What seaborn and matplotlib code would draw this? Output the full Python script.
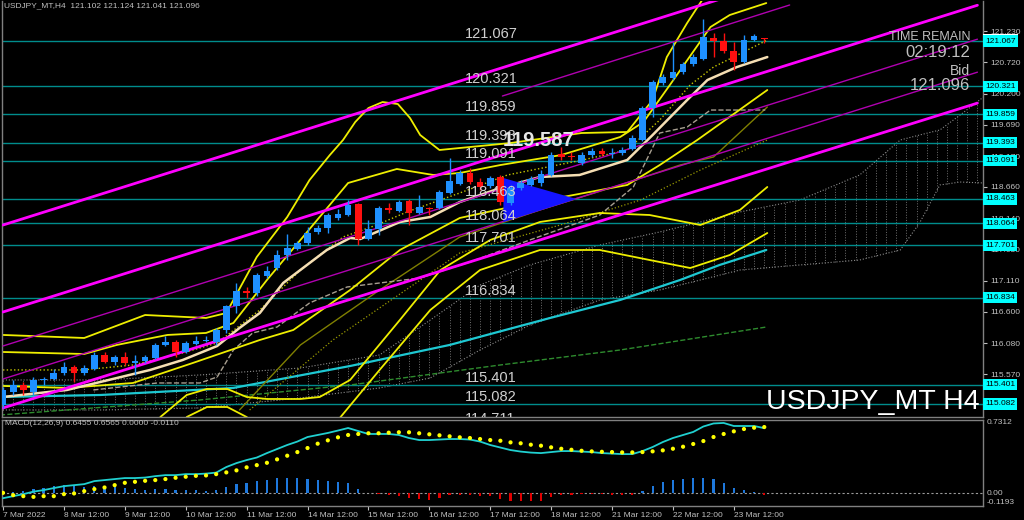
import numpy as np
import matplotlib
matplotlib.use("Agg")
import matplotlib.pyplot as plt
import seaborn as sns

sns.set_theme(style="dark")
plt.rcParams['font.family'] = ['Liberation Sans', 'DejaVu Sans']

# ---------------- data ----------------
bars = list(range(76))
open_ = [115.065, 115.280, 115.395, 115.280, 115.478, 115.494, 115.593, 115.692, 115.593, 115.659,
         115.890, 115.774, 115.857, 115.758, 115.791, 115.840, 116.055, 116.104, 115.939, 116.071,
         116.121, 116.104, 116.302, 116.698, 116.945, 116.912, 117.192, 117.324, 117.538, 117.637,
         117.736, 117.918, 117.984, 118.149, 118.198, 118.379, 117.802, 117.967, 118.313, 118.264,
         118.429, 118.231, 118.313, 118.313, 118.561, 118.709, 118.890, 118.742, 118.676, 118.825,
         118.396, 118.643, 118.693, 118.726, 118.858, 119.204, 119.171, 119.055, 119.187, 119.253,
         119.204, 119.220, 119.286, 119.435, 119.962, 120.375, 120.457, 120.556, 120.688, 120.770,
         121.116, 121.067, 120.902, 120.721, 121.083, 121.102]
high = [115.362, 115.478, 115.445, 115.527, 115.527, 115.659, 115.774, 115.725, 115.725, 115.939,
        115.939, 115.890, 115.939, 115.890, 115.890, 116.088, 116.203, 116.137, 116.121, 116.203,
        116.203, 116.335, 116.715, 117.077, 117.011, 117.242, 117.358, 117.621, 117.885, 117.769,
        118.000, 118.033, 118.231, 118.297, 118.445, 118.396, 118.116, 118.346, 118.396, 118.445,
        118.462, 118.528, 118.330, 118.610, 119.138, 118.940, 118.973, 118.808, 118.841, 118.858,
        118.693, 118.775, 118.841, 118.940, 119.237, 119.319, 119.237, 119.237, 119.303, 119.303,
        119.303, 119.319, 119.517, 119.995, 120.424, 120.523, 121.050, 120.721, 120.853, 121.430,
        121.199, 121.199, 121.050, 121.166, 121.182, 121.124]
low = [115.016, 115.230, 115.230, 115.230, 115.395, 115.478, 115.560, 115.445, 115.560, 115.642,
       115.758, 115.725, 115.725, 115.560, 115.758, 115.824, 116.038, 115.857, 115.923, 116.055,
       116.104, 116.055, 116.253, 116.582, 116.830, 116.863, 117.159, 117.291, 117.456, 117.621,
       117.703, 117.885, 117.901, 118.116, 118.182, 117.703, 117.786, 117.868, 118.231, 118.248,
       118.033, 118.215, 118.198, 118.297, 118.544, 118.693, 118.709, 118.610, 118.643, 118.363,
       118.363, 118.610, 118.676, 118.676, 118.841, 119.105, 119.105, 119.022, 119.155, 119.171,
       119.138, 119.187, 119.270, 119.418, 119.814, 120.341, 120.424, 120.523, 120.655, 120.754,
       120.803, 120.869, 120.589, 120.704, 121.067, 121.041]
close = [115.313, 115.395, 115.313, 115.478, 115.494, 115.593, 115.692, 115.593, 115.675, 115.890,
         115.774, 115.857, 115.758, 115.791, 115.857, 116.055, 116.104, 115.939, 116.088, 116.121,
         116.137, 116.302, 116.698, 116.945, 116.912, 117.209, 117.275, 117.538, 117.654, 117.736,
         117.901, 117.984, 118.198, 118.215, 118.363, 117.802, 117.967, 118.313, 118.281, 118.412,
         118.231, 118.330, 118.297, 118.577, 118.759, 118.890, 118.742, 118.660, 118.808, 118.412,
         118.643, 118.726, 118.792, 118.874, 119.187, 119.155, 119.155, 119.187, 119.253, 119.204,
         119.220, 119.270, 119.468, 119.962, 120.391, 120.473, 120.556, 120.688, 120.803, 121.133,
         121.067, 120.902, 120.721, 121.083, 121.149, 121.096]

# horizontal levels
levels = [121.067, 120.321, 119.859, 119.393, 119.091, 118.463, 118.064, 117.701,
          116.834, 115.401, 115.082, 114.711]
price_ticks = [121.230, 120.720, 120.200, 119.690, 119.170, 118.660, 118.140, 117.630,
               117.110, 116.600, 116.080, 115.570]

# indicator lines (bar index, price)
bb_outer_up_x = [0, 8, 14, 20, 22, 25, 28, 30.2, 32.2, 33.5, 34.7, 36, 37.4, 38.9, 40.1, 41.1, 43,
                 50, 57, 61.5, 64, 65.4, 67.4, 69.2]
bb_outer_up_y = [116.220, 116.170, 116.549, 116.500, 116.582, 117.506, 118.165, 118.775, 119.187,
                 119.435, 119.731, 119.962, 120.061, 120.028, 119.797, 119.517, 119.270,
                 119.385, 119.550, 119.567, 120.094, 120.803, 121.364, 121.825]
bb_inner_up_x = [0, 8, 11.2, 16.2, 20, 22.7, 26, 34, 38.8, 42.4, 45, 49, 55, 60.8, 63.1, 65.7, 69.7, 71.6, 75.2]
bb_inner_up_y = [115.939, 115.906, 116.055, 116.220, 116.253, 116.418, 117.126, 118.726, 118.957,
                 118.858, 118.891, 119.022, 119.187, 119.484, 119.731, 120.342, 121.298, 121.496, 121.693]
bb_low1_x = [0, 6.3, 12.8, 18.7, 25.3, 28.6, 34.2, 39.1, 45, 50.9, 56.2, 61.5, 64.7, 68.4, 75.3]
bb_low1_y = [115.379, 115.346, 115.428, 115.758, 116.137, 116.302, 116.961, 117.621, 118.149,
             118.363, 118.528, 118.693, 119.022, 119.435, 120.259]
bb_low2_x = [15.5, 18.1, 20.1, 22.1, 24.0, 26.0, 29.3, 31.2, 34.2, 39.1, 43.1, 48.0, 52.9, 58.8,
             63.7, 68.7, 72.6, 75.3]
bb_low2_y = [114.867, 115.230, 115.329, 115.329, 115.197, 115.164, 115.164, 115.197, 115.478,
             116.467, 117.291, 117.786, 118.083, 118.231, 118.198, 118.033, 118.281, 118.660]
bb_low3_x = [18.1, 20.1, 22.1, 24.0, 25.5, 29.0, 32.2, 37.1, 42.1, 47.0, 52.9, 58.8, 63.7, 67.7, 71.6, 75.3]
bb_low3_y = [114.867, 115.032, 115.032, 114.867, 114.653, 114.300, 114.653, 115.643, 116.632,
             117.291, 117.621, 117.621, 117.456, 117.324, 117.538, 117.901]
ma_fast_x = [0, 6.3, 9.6, 14.5, 17.7, 21.1, 23.3, 25.3, 27.6, 31.9, 34.2, 35.2, 39.1, 42.1, 45,
             49, 52.9, 56.8, 61.5, 64, 67.4, 69.4, 72.3, 75.3]
ma_fast_y = [115.197, 115.313, 115.445, 115.643, 115.807, 116.038, 116.335, 116.582, 117.077,
             117.621, 117.819, 117.802, 118.083, 118.165, 118.412, 118.643, 118.825, 118.858,
             119.105, 119.517, 120.094, 120.424, 120.638, 120.803]
ma_dot_x = [0, 7.9, 12.8, 17.7, 21.1, 25.3, 29.3, 33.5, 36.8, 39.8, 45, 49.7, 57.1, 61.5, 64.7, 67.7, 70, 75.3]
ma_dot_y = [115.643, 115.643, 115.725, 115.923, 116.088, 116.632, 117.291, 117.835, 118.033,
            118.248, 118.561, 118.858, 119.105, 119.270, 119.764, 120.342, 120.638, 121.083]
olive_x = [23.3, 29.3, 37.1, 45, 52.9, 60.8, 66.7, 70, 75.3]
olive_y = [114.983, 116.055, 116.961, 117.835, 118.281, 118.693, 119.022, 119.155, 119.979]
olive_dot_x = [24.3, 32.5, 45, 54.9, 62.8, 68.7, 75.3]
olive_dot_y = [114.983, 116.137, 117.572, 118.033, 118.445, 118.940, 119.435]
kijun_x = [8.9, 15.2, 19.4, 21.1, 22.7, 24.6, 27.0, 30.2, 33.9, 41.1, 46.0, 51.9, 58.8, 62.1,
           63.4, 64.7, 67.4, 69.7, 75.1]
kijun_y = [115.313, 115.428, 115.428, 115.527, 115.972, 116.253, 116.351, 116.747, 117.011,
           117.159, 117.423, 117.786, 118.198, 118.660, 119.105, 119.550, 119.649, 119.929, 119.929]
ma_slow_x = [-0.3, 9.6, 22.7, 34.2, 44, 53.9, 60.8, 66.7, 70.6, 75.2]
ma_slow_y = [115.197, 115.230, 115.346, 115.708, 116.055, 116.500, 116.797, 117.126, 117.374, 117.621]
ma_green_x = [-0.3, 19.4, 34.2, 49, 60.8, 75.2]
ma_green_y = [114.900, 115.148, 115.395, 115.725, 115.972, 116.351]
cloud_x = [-0.3, 9.6, 19.4, 29.3, 37.1, 42.1, 47.0, 51.9, 58.8, 64.7, 68.7, 72.6, 78.5, 84.4,
           88.4, 90.3, 92.3, 94.3, 96.6]
cloud_up = [115.478, 115.478, 115.560, 115.675, 115.890, 116.467, 117.044, 117.374, 117.704,
            117.918, 118.083, 118.248, 118.445, 118.858, 119.435, 119.517, 119.600, 119.847, 120.144]
cloud_lo = [114.983, 114.983, 115.016, 115.181, 115.346, 115.511, 115.972, 116.385, 116.797,
            116.962, 117.126, 117.291, 117.374, 117.456, 117.621, 118.066, 118.693, 118.742, 118.726]

# channel lines (start/end)
chan_x = [0, 96]
chan_thick = [[118.033, 123.095], [116.599, 121.657], [115.016, 120.043]]
chan_thin = [[116.038, 121.097], [115.494, 120.553]]
fork_x = [49.2, 77.5]
fork_y = [120.160, 121.661]
tri_x = [49.3, 49.3, 56.5]
tri_y = [118.808, 118.083, 118.462]

# MACD
macd_main = [-0.047, -0.027, -0.007, 0.018, 0.033, 0.053, 0.072, 0.082, 0.092, 0.122,
             0.132, 0.142, 0.152, 0.152, 0.157, 0.171, 0.181, 0.181, 0.191, 0.191,
             0.196, 0.206, 0.261, 0.300, 0.330, 0.355, 0.399, 0.439, 0.479, 0.513,
             0.558, 0.578, 0.598, 0.622, 0.647, 0.617, 0.588, 0.588, 0.588, 0.578,
             0.548, 0.528, 0.528, 0.533, 0.538, 0.538, 0.533, 0.513, 0.479, 0.454,
             0.429, 0.414, 0.404, 0.399, 0.409, 0.419, 0.419, 0.414, 0.409, 0.399,
             0.394, 0.389, 0.389, 0.419, 0.459, 0.508, 0.548, 0.578, 0.608, 0.662,
             0.692, 0.697, 0.667, 0.667, 0.667, 0.6455]
macd_signal = [0.006, -0.017, -0.027, -0.034, -0.027, -0.027, -0.007, 0.000, 0.023, 0.043,
               0.059, 0.082, 0.105, 0.115, 0.125, 0.132, 0.142, 0.155, 0.165, 0.174,
               0.178, 0.191, 0.208, 0.228, 0.258, 0.280, 0.303, 0.337, 0.373, 0.409,
               0.449, 0.492, 0.525, 0.555, 0.578, 0.588, 0.595, 0.595, 0.601, 0.605,
               0.605, 0.595, 0.585, 0.575, 0.565, 0.555, 0.548, 0.538, 0.528, 0.521,
               0.505, 0.496, 0.482, 0.472, 0.456, 0.442, 0.432, 0.422, 0.416, 0.412,
               0.409, 0.406, 0.406, 0.409, 0.416, 0.426, 0.442, 0.462, 0.489, 0.518,
               0.558, 0.588, 0.614, 0.637, 0.650, 0.6565]
macd_hist = [-0.010, 0.010, 0.020, 0.040, 0.050, 0.069, 0.079, 0.069, 0.062, 0.069,
             0.062, 0.069, 0.056, 0.046, 0.033, 0.040, 0.046, 0.033, 0.033, 0.033,
             0.026, 0.033, 0.062, 0.093, 0.102, 0.125, 0.132, 0.152, 0.152, 0.152,
             0.142, 0.132, 0.125, 0.109, 0.099, 0.040, 0.004, -0.005, -0.017, -0.027,
             -0.050, -0.059, -0.066, -0.050, -0.017, -0.017, -0.017, -0.027, -0.027, -0.059,
             -0.073, -0.073, -0.073, -0.073, -0.040, -0.020, -0.017, -0.010, -0.003, -0.010,
             -0.017, -0.017, -0.017, 0.023, 0.073, 0.112, 0.132, 0.142, 0.149, 0.155,
             0.142, 0.106, 0.053, 0.033, 0.013, -0.011]

date_ticks = [0, 6, 12, 18, 24, 30, 36, 42, 48, 54, 60, 66, 72]
date_labels = ["7 Mar 2022", "8 Mar 12:00", "9 Mar 12:00", "10 Mar 12:00", "11 Mar 12:00",
               "14 Mar 12:00", "15 Mar 12:00", "16 Mar 12:00", "17 Mar 12:00", "18 Mar 12:00",
               "21 Mar 12:00", "22 Mar 12:00", "23 Mar 12:00"]

# ---------------- figure ----------------
W, H = 1024, 520
fig = plt.figure(figsize=(W / 100, H / 100), dpi=100, facecolor='black')


def rect(x0, y0, x1, y1):
    return [x0 / W, 1 - y1 / H, (x1 - x0) / W, (y1 - y0) / H]


ax = fig.add_axes(rect(2, 1, 983, 417))
ax2 = fig.add_axes(rect(2, 419.5, 983, 505.5), sharex=ax)
GRAY = '#c0c0c0'
for a in (ax, ax2):
    a.set_facecolor('black')
    a.grid(False)
    for s in a.spines.values():
        s.set_color('#808080')
        s.set_linewidth(1)
ax.spines['top'].set_visible(False)

ax.set_xlim(-0.1, 96.55)
ax.set_ylim(114.867, 121.727)
ax2.set_ylim(-0.1193, 0.7312)


def line(axis, xs, ys, color, lw=1.0, ls='-', z=2):
    sns.lineplot(x=np.asarray(xs, float), y=np.asarray(ys, float), ax=axis, color=color,
                 linewidth=lw, linestyle=ls, estimator=None, sort=False, legend=False, zorder=z)


# Ichimoku cloud
line(ax, cloud_x, cloud_up, '#8c8c8c', 0.8, ':', 1)
line(ax, cloud_x, cloud_lo, '#8c8c8c', 0.8, ':', 1)
hx = np.arange(0, 97)
ax.vlines(hx, np.interp(hx, cloud_x, cloud_lo), np.interp(hx, cloud_x, cloud_up),
          colors='#6e6e6e', linewidth=0.7, linestyles=':', zorder=1)

# horizontal levels
for lv in levels:
    ax.axhline(lv, color='#008c8c', lw=1.0, zorder=1.5)
    ax.text(45.5, lv + 0.05, f"{lv:.3f}", color='#d0d0d0', fontsize=10.5, ha='left',
            va='baseline', zorder=6, clip_on=True)

# moving averages / bands
line(ax, ma_green_x, ma_green_y, '#2e8b2e', 1.0, '--', 2)
line(ax, ma_slow_x, ma_slow_y, '#1ec8d2', 1.6, '-', 2)
line(ax, olive_dot_x, olive_dot_y, '#9a9a00', 0.9, ':', 2)
line(ax, olive_x, olive_y, '#7f7f00', 1.0, '-', 2)
line(ax, kijun_x, kijun_y, '#a89f90', 1.0, '--', 2)
for xs, ys in [(bb_outer_up_x, bb_outer_up_y), (bb_inner_up_x, bb_inner_up_y),
               (bb_low1_x, bb_low1_y), (bb_low2_x, bb_low2_y), (bb_low3_x, bb_low3_y)]:
    line(ax, xs, ys, '#eeee00', 1.3, '-', 2.2)
line(ax, ma_dot_x, ma_dot_y, '#c8c800', 1.0, ':', 2.2)
line(ax, ma_fast_x, ma_fast_y, '#f5deb3', 1.8, '-', 2.4)

# channels
for ys in chan_thick:
    line(ax, chan_x, ys, '#ff00ff', 2.0, '-', 2.6)
for ys in chan_thin:
    line(ax, chan_x, ys, '#b000b0', 1.0, '-', 2.6)
line(ax, fork_x, fork_y, '#b000b0', 1.0, '-', 2.6)

# triangle
ax.fill(tri_x, tri_y, color='#1414ff', zorder=2.8, lw=0)

# candles
o = np.array(open_); c = np.array(close)
cols = np.where(c >= o, '#1e90ff', '#ff1010')
ax.vlines(bars, low, high, colors=cols, linewidth=1.0, zorder=3)
ax.bar(bars, np.maximum(np.abs(c - o), 0.014), bottom=np.minimum(o, c), width=0.66,
       color=cols, linewidth=0, zorder=3.1)

# big price text
ax.text(52.8, 119.423, "119.587", color='#e6e6e6', fontsize=14.5, fontweight='bold',
        ha='center', va='center', zorder=7)

# price axis
ax.yaxis.tick_right()
ax.set_yticks(price_ticks)
ax.set_yticklabels([f"{t:.3f}" for t in price_ticks])
ax.tick_params(axis='y', colors=GRAY, labelsize=6, length=3, width=0.8, pad=2, right=True, left=False)
ax.tick_params(axis='x', bottom=False, labelbottom=False)
ax.set_xlabel(''); ax.set_ylabel('')

ytr = ax.get_yaxis_transform()
ax.text(1.002, close[-1], f"{close[-1]:.3f}", transform=ytr, ha='left', va='center', fontsize=6,
        color='black', bbox=dict(boxstyle='square,pad=0.25', fc='white', ec='none'),
        clip_on=False, zorder=8)
for lv in levels:
    if lv > ax.get_ylim()[0]:
        ax.text(1.002, lv, f"{lv:.3f}", transform=ytr, ha='left', va='center', fontsize=6,
                color='black', bbox=dict(boxstyle='square,pad=0.25', fc='#00ffff', ec='none'),
                clip_on=False, zorder=9)

# overlay texts
ax.text(0.002, 0.988, "USDJPY_MT,H4  121.102 121.124 121.041 121.096", transform=ax.transAxes,
        color=GRAY, fontsize=6, ha='left', va='center')
ax.text(0.987, 0.913, "TIME REMAIN", transform=ax.transAxes, color=GRAY, fontsize=9,
        ha='right', va='center', zorder=9)
ax.text(0.987, 0.877, "02:19:12", transform=ax.transAxes, color=GRAY, fontsize=12,
        ha='right', va='center', zorder=9)
ax.text(0.987, 0.832, "Bid", transform=ax.transAxes, color=GRAY, fontsize=10,
        ha='right', va='center', zorder=9)
ax.text(0.987, 0.797, "121.096", transform=ax.transAxes, color=GRAY, fontsize=12,
        ha='right', va='center', zorder=9)
ax.text(0.997, 0.006, "USDJPY_MT H4", transform=ax.transAxes, color='white', fontsize=20.5,
        ha='right', va='bottom', zorder=9)

# ---------------- MACD ----------------
h = np.array(macd_hist)
ax2.bar(bars, h, width=0.22, color=np.where(h >= 0, '#1e78dc', '#e00000'), linewidth=0, zorder=2)
ax2.axhline(0, color='#9a9a9a', lw=0.8, ls=(0, (2, 2)), zorder=1)
line(ax2, bars, macd_main, '#20d0d0', 1.3, '-', 3)
sns.scatterplot(x=bars, y=macd_signal, ax=ax2, color='#ffff00', s=9, edgecolor='none',
                legend=False, zorder=4)
ax2.set_yticks([])
ax2.set_xlabel(''); ax2.set_ylabel('')
ax2.set_xticks(date_ticks)
ax2.set_xticklabels(date_labels)
ax2.tick_params(axis='x', colors=GRAY, labelsize=6, length=3, width=0.8, pad=1.5, bottom=True)
for lb in ax2.get_xticklabels():
    lb.set_ha('left')
ax2.text(0.003, 0.948, "MACD(12,26,9) 0.6455 0.6565 0.0000 -0.0110", transform=ax2.transAxes,
         color=GRAY, fontsize=6, ha='left', va='center')
y2tr = ax2.get_yaxis_transform()
ax2.text(1.004, 0.7312, "0.7312", transform=y2tr, color=GRAY, fontsize=6, ha='left', va='top', clip_on=False)
ax2.text(1.004, 0.0, "0.00", transform=y2tr, color=GRAY, fontsize=6, ha='left', va='center', clip_on=False)
ax2.text(1.004, -0.1193, "-0.1193", transform=y2tr, color=GRAY, fontsize=6, ha='left', va='bottom', clip_on=False)

fig.savefig("out.png", dpi=100, facecolor='black')
